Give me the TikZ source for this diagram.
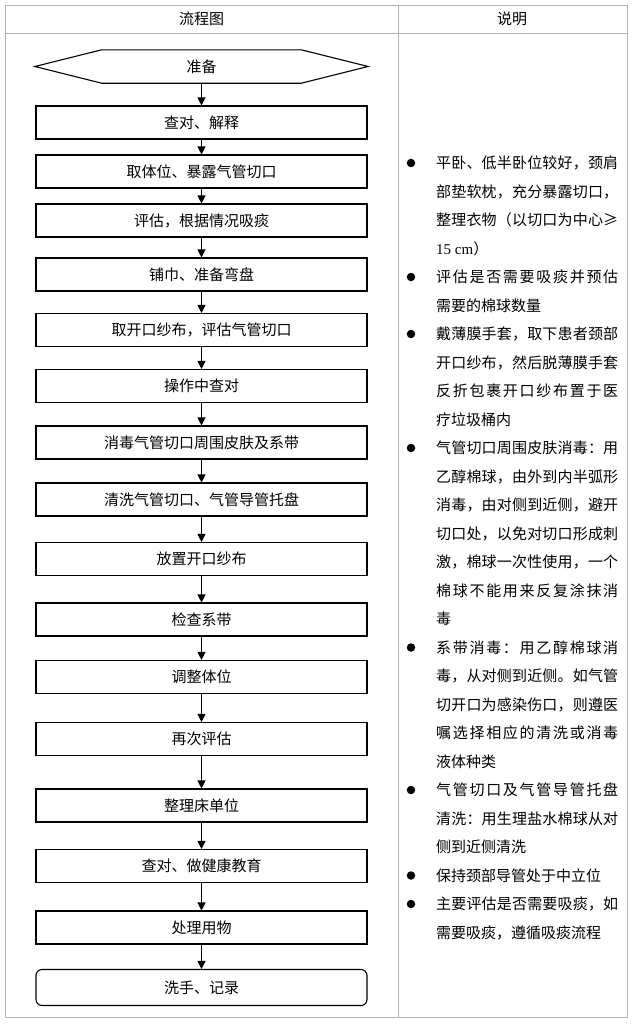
\documentclass[tikz,border=0pt]{standalone}
\usepackage{fontspec}
\setmainfont{Noto Sans CJK SC}
\newfontfamily\latinserif{Liberation Serif}
\usetikzlibrary{arrows.meta}
\def\spr#1{#1\sprx}
\def\sprx#1{\ifx\relax#1\else\hfill#1\expandafter\sprx\fi}
\newcommand\fullline[1]{\hbox to 182pt{\spr #1\relax}}
\tikzset{
  gridline/.style={draw=black!30, line width=1pt},
  txt/.style={font=\fontsize{15}{15}\selectfont, inner sep=0pt},
  stepbox/.style={draw, line width=1.1pt, minimum width=331pt, minimum height=33pt,
    inner sep=0pt, font=\fontsize{15}{15}\selectfont, text height=13pt, text depth=2pt},
  hexbox/.style={minimum width=333pt, minimum height=33pt, inner sep=0pt,
    font=\fontsize{15}{15}\selectfont, text height=13pt, text depth=2pt},
  arr/.style={-{Triangle[length=8pt,width=8pt]}, line width=1.1pt},
  note/.style={anchor=base west, inner sep=0pt, font=\fontsize{15}{15}\selectfont},
  dot/.style={circle, fill=black, inner sep=0pt, minimum size=8.5pt}
}
\begin{document}
\begin{tikzpicture}[x=1pt,y=-1pt]
\useasboundingbox (0,0) rectangle (638,1029);
\fill[white] (0,0) rectangle (638,1029);
% table
\draw[gridline] (5,5) rectangle (627,1017);
\draw[gridline] (5,33) -- (627,33);
\draw[gridline] (398,5) -- (398,1017);
\node[txt, text height=13pt, text depth=2pt] (h1) at (201.5,19) {流程图};
\node[txt, text height=13pt, text depth=2pt] (h2) at (512,19) {说明};
% flowchart
\node[hexbox] (hex) at (201.5,66.5) {准备};
\draw[line width=1.1pt] (hex.west) -- ([xshift=67pt]hex.north west) -- ([xshift=-67pt]hex.north east)
  -- (hex.east) -- ([xshift=-67pt]hex.south east) -- ([xshift=67pt]hex.south west) -- cycle;
\node[stepbox] (b1) at (201.5,122.5) {查对、解释};
\node[stepbox] (b2) at (201.5,171.5) {取体位、暴露气管切口};
\node[stepbox] (b3) at (201.5,220.5) {评估，根据情况吸痰};
\node[stepbox] (b4) at (201.5,274.5) {铺巾、准备弯盘};
\node[stepbox] (b5) at (201.5,330) {取开口纱布，评估气管切口};
\node[stepbox] (b6) at (201.5,386) {操作中查对};
\node[stepbox] (b7) at (201.5,442.5) {消毒气管切口周围皮肤及系带};
\node[stepbox] (b8) at (201.5,499.5) {清洗气管切口、气管导管托盘};
\node[stepbox] (b9) at (201.5,559) {放置开口纱布};
\node[stepbox] (b10) at (201.5,619.5) {检查系带};
\node[stepbox] (b11) at (201.5,677) {调整体位};
\node[stepbox] (b12) at (201.5,739) {再次评估};
\node[stepbox] (b13) at (201.5,805.5) {整理床单位};
\node[stepbox] (b14) at (201.5,866) {查对、做健康教育};
\node[stepbox] (b15) at (201.5,927.5) {处理用物};
\node[stepbox, rounded corners=6pt, minimum height=36pt] (b16) at (201.5,987.5) {洗手、记录};
\draw[arr] (hex.south) -- (b1.north);
\draw[arr] (b1) -- (b2);
\draw[arr] (b2) -- (b3);
\draw[arr] (b3) -- (b4);
\draw[arr] (b4) -- (b5);
\draw[arr] (b5) -- (b6);
\draw[arr] (b6) -- (b7);
\draw[arr] (b7) -- (b8);
\draw[arr] (b8) -- (b9);
\draw[arr] (b9) -- (b10);
\draw[arr] (b10) -- (b11);
\draw[arr] (b11) -- (b12);
\draw[arr] (b12) -- (b13);
\draw[arr] (b13) -- (b14);
\draw[arr] (b14) -- (b15);
\draw[arr] (b15) -- (b16);
% notes
\node[dot] (d1) at (411,163) {};
\node[dot] (d2) at (411,277) {};
\node[dot] (d3) at (411,334) {};
\node[dot] (d4) at (411,448) {};
\node[dot] (d5) at (411,647.5) {};
\node[dot] (d6) at (411,790) {};
\node[dot] (d7) at (411,875.5) {};
\node[dot] (d8) at (411,904) {};
\node[note] (l1) at (436,168.5) {\fullline{平卧、低半卧位较好，颈肩}};
\node[note] (l2) at (436,197) {\fullline{部垫软枕，充分暴露切口，}};
\node[note] (l3) at (436,225.5) {\fullline{整理衣物（以切口为中心≥}};
\node[note] (l4) at (436,254) {{\latinserif 15 cm}）};
\node[note] (l5) at (436,282.5) {\fullline{评估是否需要吸痰并预估}};
\node[note] (l6) at (436,311) {需要的棉球数量};
\node[note] (l7) at (436,339.5) {\fullline{戴薄膜手套，取下患者颈部}};
\node[note] (l8) at (436,368) {\fullline{开口纱布，然后脱薄膜手套}};
\node[note] (l9) at (436,396.5) {\fullline{反折包裹开口纱布置于医}};
\node[note] (l10) at (436,425) {疗垃圾桶内};
\node[note] (l11) at (436,453.5) {\fullline{气管切口周围皮肤消毒：用}};
\node[note] (l12) at (436,482) {\fullline{乙醇棉球，由外到内半弧形}};
\node[note] (l13) at (436,510.5) {\fullline{消毒，由对侧到近侧，避开}};
\node[note] (l14) at (436,539) {\fullline{切口处，以免对切口形成刺}};
\node[note] (l15) at (436,567.5) {\fullline{激，棉球一次性使用，一个}};
\node[note] (l16) at (436,596) {\fullline{棉球不能用来反复涂抹消}};
\node[note] (l17) at (436,624.5) {毒};
\node[note] (l18) at (436,653) {\fullline{系带消毒：用乙醇棉球消}};
\node[note] (l19) at (436,681.5) {\fullline{毒，从对侧到近侧。如气管}};
\node[note] (l20) at (436,710) {\fullline{切开口为感染伤口，则遵医}};
\node[note] (l21) at (436,738.5) {\fullline{嘱选择相应的清洗或消毒}};
\node[note] (l22) at (436,767) {液体种类};
\node[note] (l23) at (436,795.5) {\fullline{气管切口及气管导管托盘}};
\node[note] (l24) at (436,824) {\fullline{清洗：用生理盐水棉球从对}};
\node[note] (l25) at (436,852.5) {侧到近侧清洗};
\node[note] (l26) at (436,881) {保持颈部导管处于中立位};
\node[note] (l27) at (436,909.5) {\fullline{主要评估是否需要吸痰，如}};
\node[note] (l28) at (436,938) {需要吸痰，遵循吸痰流程};
\end{tikzpicture}
\end{document}
